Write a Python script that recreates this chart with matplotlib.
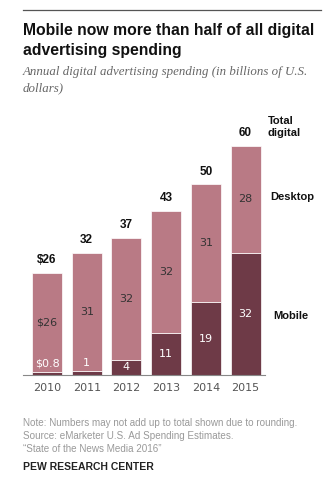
import matplotlib
matplotlib.use("Agg")
import matplotlib.pyplot as plt
from matplotlib.lines import Line2D
import numpy as np

years = ["2010", "2011", "2012", "2013", "2014", "2015"]
mobile = [0.8, 1, 4, 11, 19, 32]
desktop = [26, 31, 32, 32, 31, 28]
totals = [26, 32, 37, 43, 50, 60]
mobile_labels = ["$0.8", "1", "4", "11", "19", "32"]
desktop_labels = ["$26", "31", "32", "32", "31", "28"]
total_labels = ["$26", "32", "37", "43", "50", "60"]

DESKTOP_C = "#b97a85"
MOBILE_C = "#6e3a47"
W, H = 330, 480

fig = plt.figure(figsize=(W / 100, H / 100), dpi=100)
fig.patch.set_facecolor("white")


def fx(px):
    return px / W


def fy(py):
    return 1 - py / H


# top rule
fig.add_artist(Line2D([fx(23), fx(321)], [fy(10), fy(10)], color="#555555", lw=0.9))

fig.text(fx(23), fy(30), "Mobile now more than half of all digital", family="Liberation Sans",
         weight="bold", fontsize=11.3, va="center", color="#111111")
fig.text(fx(23), fy(50), "advertising spending", family="Liberation Sans",
         weight="bold", fontsize=11.3, va="center", color="#111111")
fig.text(fx(23), fy(72), "Annual digital advertising spending (in billions of U.S.",
         family="Liberation Serif", style="italic", fontsize=9.3, va="center", color="#666666")
fig.text(fx(23), fy(88), "dollars)", family="Liberation Serif", style="italic",
         fontsize=9.3, va="center", color="#666666")

ax = fig.add_axes([fx(23), fy(375), fx(265) - fx(23), (375 - 110) / H])
x = np.arange(len(years))
bw = 0.756
ax.bar(x, mobile, width=bw, color=MOBILE_C, edgecolor="white", linewidth=0.5)
ax.bar(x, desktop, width=bw, bottom=mobile, color=DESKTOP_C, edgecolor="white", linewidth=0.5)
ax.set_xlim(-0.605, 5.49)
ax.set_ylim(0, 69.4)

for i in range(len(years)):
    # desktop value, centred in its segment
    ax.text(x[i], mobile[i] + desktop[i] / 2, desktop_labels[i], ha="center", va="center",
            fontsize=8, color="#333333")
    # mobile value; tiny segments get the label lifted a bit
    my = mobile[i] / 2 if mobile[i] >= 3 else 3.1
    ax.text(x[i], my, mobile_labels[i], ha="center", va="center", fontsize=8, color="white")
    ax.annotate(total_labels[i], (x[i], mobile[i] + desktop[i]), xytext=(0, 9),
                textcoords="offset points", ha="center", va="center", fontsize=8.5,
                weight="bold", color="#111111", family="Liberation Sans")

ax.set_xticks(x)
ax.set_xticklabels(years, fontsize=8, color="#555555")
ax.tick_params(axis="x", length=0, pad=6)
ax.set_yticks([])
for s in ["top", "right", "left"]:
    ax.spines[s].set_visible(False)
ax.spines["bottom"].set_color("#888888")
ax.spines["bottom"].set_linewidth(0.8)

fig.text(fx(268), fy(127), "Total\ndigital", family="Liberation Sans", weight="bold",
         fontsize=8, va="center", ha="left", color="#111111", linespacing=1.3)
fig.text(fx(270), fy(197), "Desktop", family="Liberation Sans", weight="bold",
         fontsize=8, va="center", ha="left", color="#111111")
fig.text(fx(273), fy(316), "Mobile", family="Liberation Sans", weight="bold",
         fontsize=8, va="center", ha="left", color="#111111")

notes = ["Note: Numbers may not add up to total shown due to rounding.",
         "Source: eMarketer U.S. Ad Spending Estimates.",
         "\u201cState of the News Media 2016\u201d"]
for k, line in enumerate(notes):
    fig.text(fx(23), fy(423 + 13 * k), line, fontsize=7.1, va="center", color="#999999",
             family="Liberation Sans")
fig.text(fx(23), fy(467), "PEW RESEARCH CENTER", family="Liberation Sans", weight="bold",
         fontsize=7.5, va="center", color="#222222")

fig.savefig("out.png", dpi=100)
